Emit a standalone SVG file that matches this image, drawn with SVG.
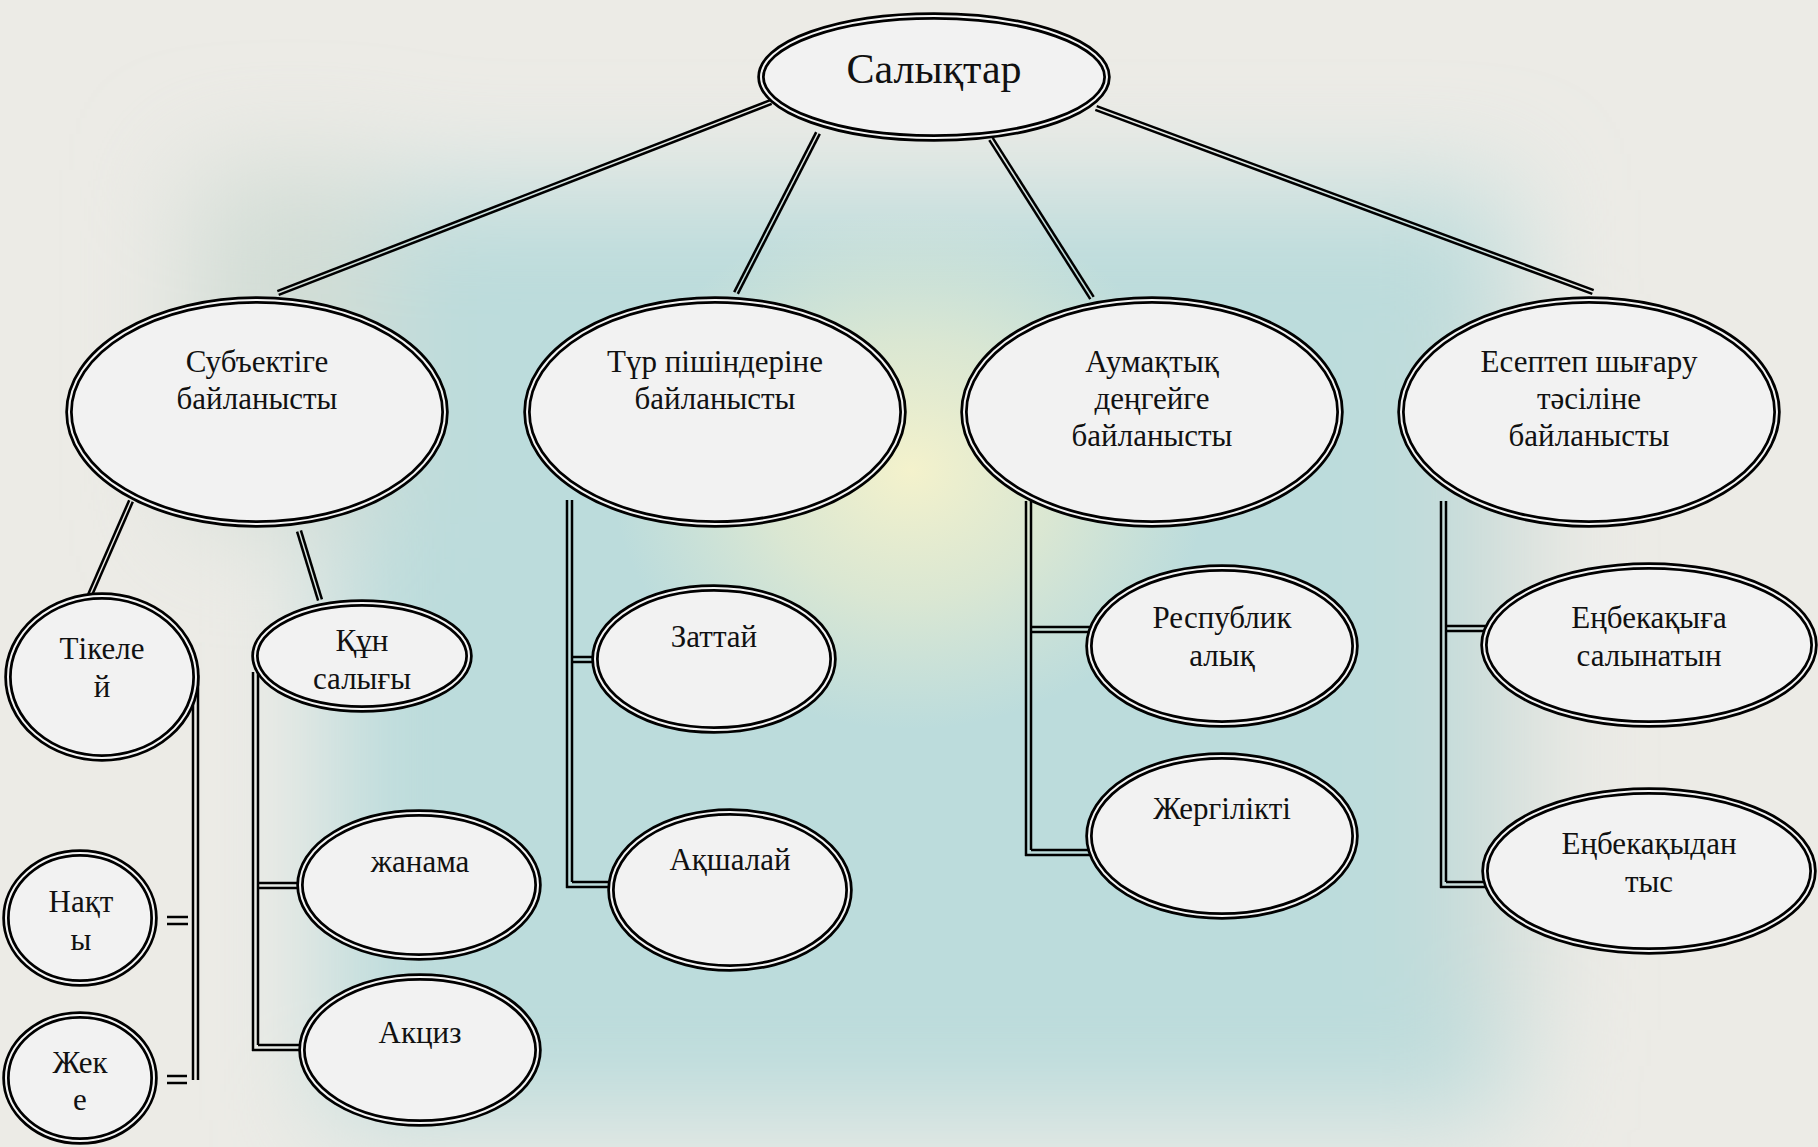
<svg xmlns="http://www.w3.org/2000/svg" width="1818" height="1147" viewBox="0 0 1818 1147">
<style>
.o{fill:#f2f2f2;stroke:#000;stroke-width:7.5}
.i{fill:none;stroke:#f4f4f4;stroke-width:2}
.t{font-family:"Liberation Serif","Times New Roman",serif;font-size:31px;fill:#111;text-anchor:middle}
.c line{stroke:#000;stroke-width:2.5}
</style>
<defs>
<filter id="blur" x="-30%" y="-30%" width="160%" height="160%"><feGaussianBlur stdDeviation="55"/></filter>
<radialGradient id="glow" cx="0.5" cy="0.5" r="0.5">
<stop offset="0" stop-color="#f4f2cc" stop-opacity="1"/>
<stop offset="0.5" stop-color="#eeeecc" stop-opacity="0.6"/>
<stop offset="1" stop-color="#e8ecd0" stop-opacity="0"/>
</radialGradient>
</defs>
<g id="background">
<rect width="1818" height="1147" fill="#ecebe6"/>
<g filter="url(#blur)">
<rect x="330" y="190" width="1180" height="930" fill="#bcdcdc"/>
<rect x="190" y="170" width="200" height="350" fill="#d2ddd6"/>
<rect x="1450" y="330" width="80" height="700" fill="#cfdcd8"/>
</g>
<ellipse cx="910" cy="470" rx="300" ry="260" fill="url(#glow)"/>
</g>
<g id="connectors" class="c">
<line x1="770.3" y1="100.1" x2="277.3" y2="291.1"/><line x1="771.7" y1="103.9" x2="278.7" y2="294.9"/>
<line x1="816.2" y1="132.1" x2="734.2" y2="292.1"/><line x1="819.8" y1="133.9" x2="737.8" y2="293.9"/>
<line x1="989.3" y1="140.1" x2="1090.3" y2="299.1"/><line x1="992.7" y1="137.9" x2="1093.7" y2="296.9"/>
<line x1="1095.3" y1="109.9" x2="1592.3" y2="293.9"/><line x1="1096.7" y1="106.1" x2="1593.7" y2="290.1"/>
<line x1="129.2" y1="500.2" x2="88.2" y2="594.2"/><line x1="132.8" y1="501.8" x2="91.8" y2="595.8"/>
<line x1="297.1" y1="531.6" x2="318.1" y2="600.6"/><line x1="300.9" y1="530.4" x2="321.9" y2="599.4"/>
<line x1="193" y1="675" x2="193" y2="1080"/><line x1="198" y1="675" x2="198" y2="1080"/>
<line x1="167" y1="917" x2="188" y2="917"/><line x1="167" y1="924" x2="188" y2="924"/>
<line x1="167" y1="1076" x2="187" y2="1076"/><line x1="167" y1="1083" x2="187" y2="1083"/>
<line x1="253" y1="672" x2="253" y2="1051"/><line x1="258" y1="672" x2="258" y2="1045"/>
<line x1="258" y1="883" x2="302" y2="883"/><line x1="258" y1="888" x2="302" y2="888"/>
<line x1="258" y1="1045" x2="304" y2="1045"/><line x1="252" y1="1050" x2="304" y2="1050"/>
<line x1="567" y1="500" x2="567" y2="888"/><line x1="572" y1="500" x2="572" y2="882"/>
<line x1="572" y1="657" x2="598" y2="657"/><line x1="572" y1="662" x2="598" y2="662"/>
<line x1="572" y1="882" x2="614" y2="882"/><line x1="566" y1="887" x2="614" y2="887"/>
<line x1="1026" y1="501" x2="1026" y2="856"/><line x1="1031" y1="501" x2="1031" y2="850"/>
<line x1="1031" y1="627" x2="1094" y2="627"/><line x1="1031" y1="632" x2="1094" y2="632"/>
<line x1="1031" y1="850" x2="1094" y2="850"/><line x1="1025" y1="855" x2="1094" y2="855"/>
<line x1="1441" y1="501" x2="1441" y2="888"/><line x1="1446" y1="501" x2="1446" y2="882"/>
<line x1="1446" y1="626" x2="1489" y2="626"/><line x1="1446" y1="631" x2="1489" y2="631"/>
<line x1="1446" y1="882" x2="1490" y2="882"/><line x1="1440" y1="887" x2="1490" y2="887"/>
</g>
<g id="n-salyqtar"><ellipse class="o" cx="934" cy="77" rx="173" ry="61"/><ellipse class="i" cx="934" cy="77" rx="173" ry="61"/>
<text class="t" x="934" y="83" style="font-size:42px">Салықтар</text></g>
<g id="n-subekt"><ellipse class="o" cx="257" cy="412" rx="188" ry="112"/><ellipse class="i" cx="257" cy="412" rx="188" ry="112"/>
<text class="t" x="257" y="372">Субъектіге</text><text class="t" x="257" y="409">байланысты</text></g>
<g id="n-tur"><ellipse class="o" cx="715" cy="412" rx="188" ry="112"/><ellipse class="i" cx="715" cy="412" rx="188" ry="112"/>
<text class="t" x="715" y="372">Түр пішіндеріне</text><text class="t" x="715" y="409">байланысты</text></g>
<g id="n-aumaq"><ellipse class="o" cx="1152" cy="412" rx="188" ry="112"/><ellipse class="i" cx="1152" cy="412" rx="188" ry="112"/>
<text class="t" x="1152" y="372">Аумақтық</text><text class="t" x="1152" y="409">деңгейге</text><text class="t" x="1152" y="446">байланысты</text></g>
<g id="n-esep"><ellipse class="o" cx="1589" cy="412" rx="188" ry="112"/><ellipse class="i" cx="1589" cy="412" rx="188" ry="112"/>
<text class="t" x="1589" y="372">Есептеп шығару</text><text class="t" x="1589" y="409">тәсіліне</text><text class="t" x="1589" y="446">байланысты</text></g>
<g id="n-tikelei"><ellipse class="o" cx="102" cy="677" rx="94" ry="81"/><ellipse class="i" cx="102" cy="677" rx="94" ry="81"/>
<text class="t" x="102" y="659">Тікеле</text><text class="t" x="102" y="697">й</text></g>
<g id="n-qun"><ellipse class="o" cx="362" cy="656" rx="107" ry="53"/><ellipse class="i" cx="362" cy="656" rx="107" ry="53"/>
<text class="t" x="362" y="651">Құн</text><text class="t" x="362" y="689">салығы</text></g>
<g id="n-naqty"><ellipse class="o" cx="80" cy="918" rx="74" ry="65"/><ellipse class="i" cx="80" cy="918" rx="74" ry="65"/>
<text class="t" x="81" y="912">Нақт</text><text class="t" x="81" y="950">ы</text></g>
<g id="n-zheke"><ellipse class="o" cx="80" cy="1078" rx="74" ry="63"/><ellipse class="i" cx="80" cy="1078" rx="74" ry="63"/>
<text class="t" x="80" y="1073">Жек</text><text class="t" x="80" y="1110">е</text></g>
<g id="n-zhanama"><ellipse class="o" cx="419" cy="885" rx="119" ry="72"/><ellipse class="i" cx="419" cy="885" rx="119" ry="72"/>
<text class="t" x="420" y="872">жанама</text></g>
<g id="n-akciz"><ellipse class="o" cx="420" cy="1050" rx="118" ry="73"/><ellipse class="i" cx="420" cy="1050" rx="118" ry="73"/>
<text class="t" x="420" y="1043">Акциз</text></g>
<g id="n-zattai"><ellipse class="o" cx="714" cy="659" rx="119" ry="71"/><ellipse class="i" cx="714" cy="659" rx="119" ry="71"/>
<text class="t" x="714" y="647">Заттай</text></g>
<g id="n-aqshalai"><ellipse class="o" cx="730" cy="890" rx="119" ry="78"/><ellipse class="i" cx="730" cy="890" rx="119" ry="78"/>
<text class="t" x="730" y="870">Ақшалай</text></g>
<g id="n-respub"><ellipse class="o" cx="1222" cy="646" rx="133" ry="78"/><ellipse class="i" cx="1222" cy="646" rx="133" ry="78"/>
<text class="t" x="1222" y="628">Республик</text><text class="t" x="1222" y="666">алық</text></g>
<g id="n-zhergil"><ellipse class="o" cx="1222" cy="836" rx="133" ry="80"/><ellipse class="i" cx="1222" cy="836" rx="133" ry="80"/>
<text class="t" x="1222" y="819">Жергілікті</text></g>
<g id="n-enbek1"><ellipse class="o" cx="1649" cy="645" rx="165" ry="79"/><ellipse class="i" cx="1649" cy="645" rx="165" ry="79"/>
<text class="t" x="1649" y="628">Еңбекақыға</text><text class="t" x="1649" y="666">салынатын</text></g>
<g id="n-enbek2"><ellipse class="o" cx="1649" cy="871" rx="164" ry="80"/><ellipse class="i" cx="1649" cy="871" rx="164" ry="80"/>
<text class="t" x="1649" y="854">Еңбекақыдан</text><text class="t" x="1649" y="892">тыс</text></g>
</svg>
